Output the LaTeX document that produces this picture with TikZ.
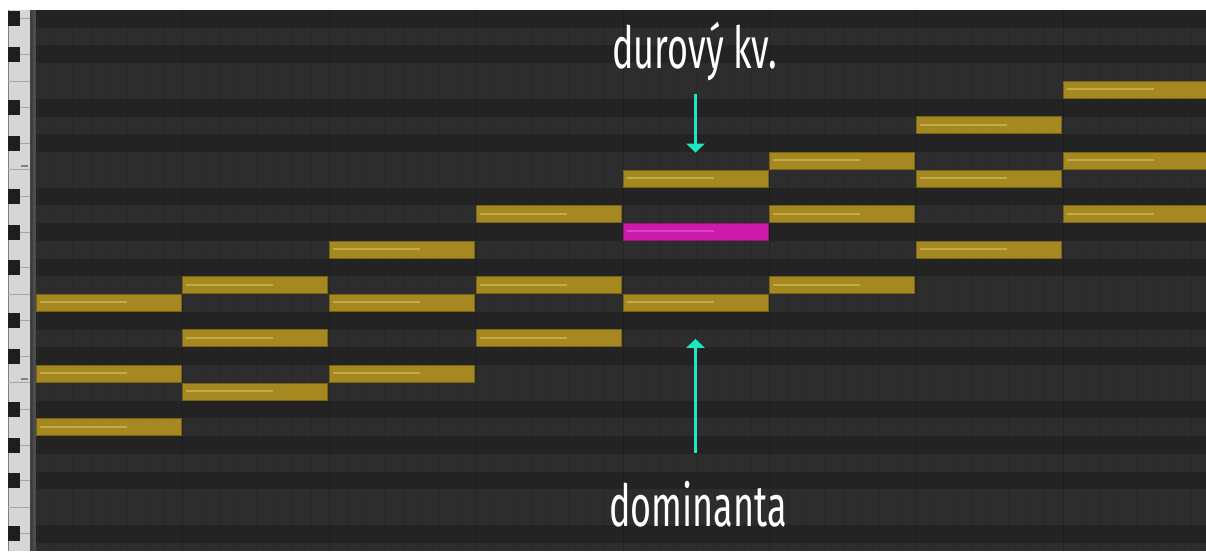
\documentclass[tikz,border=0pt]{standalone}
\usepackage{fontspec}
\newfontfamily\labelfont[FakeStretch=0.62]{Fira Sans}
\usetikzlibrary{arrows.meta,positioning}

\definecolor{rowdark}{RGB}{35,35,35}
\definecolor{rowlight}{RGB}{45,45,45}
\definecolor{keywhite}{RGB}{214,214,214}
\definecolor{keyblack}{RGB}{30,30,30}
\definecolor{gold}{RGB}{166,136,32}
\definecolor{golddark}{RGB}{120,98,24}
\definecolor{goldshine}{RGB}{232,214,130}
\definecolor{pink}{RGB}{204,26,170}
\definecolor{pinkdark}{RGB}{150,22,126}
\definecolor{pinkshine}{RGB}{238,120,214}
\definecolor{teal}{RGB}{28,232,196}

\begin{document}
\begin{tikzpicture}[x=1pt, y=-1pt,
                    >={Triangle[width=18pt,length=9pt]},
                    note/.style={draw=golddark, fill=gold, line width=1pt,
                                 minimum width=145pt, minimum height=17pt, inner sep=0pt},
                    hot/.style={note, draw=pinkdark, fill=pink},
                    shine/.style={draw=goldshine, opacity=.45, line width=2pt},
                    lbl/.style={text=white, inner sep=0pt,
                                font=\labelfont\fontsize{58}{60}\selectfont},
                    pointer/.style={->, draw=teal, line width=3pt},
                    gridline/.style={draw=black, opacity=.07, line width=.6pt}]

   \useasboundingbox (0,0) rectangle (1206,551);
   \fill[white] (0,0) rectangle (1206,551);

   % rows of the roll
   \fill[rowlight] (33,10) rectangle (1206,551);
   \foreach \r in {0,2,5,7,10,12,14,17,19,22,24,26,29}
      \fill[rowdark] (33,10+\r*17.75) rectangle (1206,27.75+\r*17.75);
   \foreach \i in {1,...,63}
      \draw[gridline] (36+\i*18.34,10) -- (36+\i*18.34,551);
   \foreach \i in {1,...,7}
      \draw[gridline, opacity=.12] (36+\i*146.75,10) -- (36+\i*146.75,551);

   % keyboard
   \fill[keywhite] (8,10) rectangle (30,551);
   \draw[gray, line width=1pt] (8,10) -- (8,551);
   \fill[black!75] (30,10) rectangle (33,551);
   \fill[black!70!white] (33,10) rectangle (36,551);
   \foreach \r in {4,9,16,21,28}
      \draw[gray!70, line width=.8pt] (8,10+\r*17.75) -- (30,10+\r*17.75);
   \foreach \r in {0,2,5,7,10,12,14,17,19,22,24,26,29} {
      \draw[gray!70, line width=.8pt] (20,18.9+\r*17.75) -- (30,18.9+\r*17.75);
      \fill[keyblack] (8,11.5+\r*17.75) rectangle (20,26.5+\r*17.75);
   }
   \foreach \r in {8,20}
      \draw[gray, line width=1.2pt] (21,24+\r*17.75) -- (28,24+\r*17.75);

   % chords
   \foreach \c/\r in {1/16,1/20,1/23, 2/15,2/18,2/21, 3/13,3/16,3/20, 4/11,4/15,4/18,
                      5/9,5/16, 6/8,6/11,6/15, 7/6,7/9,7/13, 8/4,8/8,8/11} {
      \node[note] (n\c-\r) at (\c*146.75-38.25, 18.875+\r*17.75) {};
      \draw[shine] ([xshift=4pt, yshift=.5pt]n\c-\r.west) -- ++(87,0);
   }
   \node[hot] (n5-12) at (695.5, 231.875) {};
   \draw[shine, draw=pinkshine] ([xshift=4pt, yshift=.5pt]n5-12.west) -- ++(87,0);

   \node[lbl, anchor=base] (dur) at (694.5,68) {durový kv.};
   \node[lbl, anchor=base] (dom) at (698,526) {dominanta};
   \draw[pointer, shorten <=13pt, shorten >=17pt] (n5-9.north |- dur.south) -- (n5-9.north);
   \draw[pointer, shorten <=28pt, shorten >=27pt] (n5-16.south |- dom.north) -- (n5-16.south);
\end{tikzpicture}
\end{document}
